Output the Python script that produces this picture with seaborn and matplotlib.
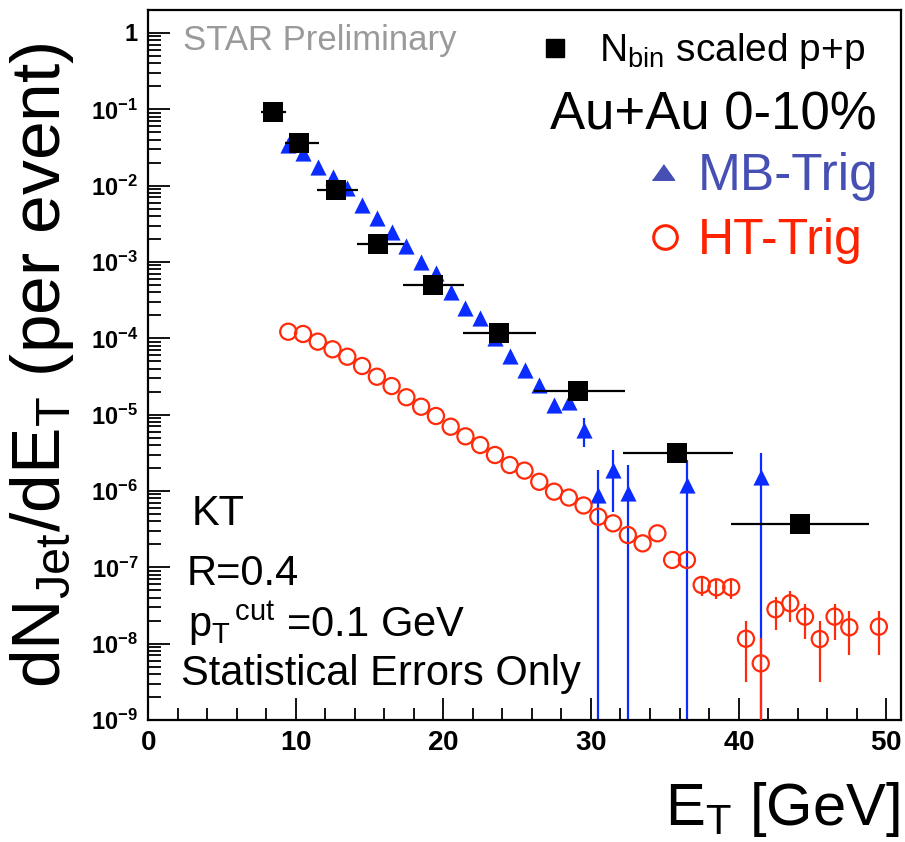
import numpy as np
import pandas as pd
import matplotlib
matplotlib.use("Agg")
import matplotlib.pyplot as plt
import seaborn as sns
from matplotlib.ticker import LogLocator, MultipleLocator, FuncFormatter, NullFormatter
from matplotlib.lines import Line2D

# ---------------- data ----------------
# N_bin scaled p+p
pp_x = [8.47, 10.2, 12.75, 15.56, 19.28, 23.79, 29.13, 35.85, 44.19]
pp_xlo = [7.67, 9.25, 11.46, 14.14, 17.3, 21.31, 26.11, 32.2, 39.5]
pp_xhi = [9.36, 11.58, 14.21, 17.36, 21.42, 26.27, 32.29, 39.64, 48.8]
pp_y = [0.093, 0.0366, 0.00877, 0.0017, 5.0e-4, 1.16e-4, 2.06e-5, 3.17e-6, 3.69e-7]

# Au+Au 0-10% MB-Trig
mb_x = [9.5, 10.5, 11.5, 12.5, 13.5, 14.5, 15.5, 16.5, 17.5, 18.5, 19.5, 20.5,
        21.5, 22.5, 23.5, 24.5, 25.5, 26.5, 27.5, 28.5, 29.5, 30.5, 31.5, 32.5,
        36.5, 41.5]
mb_y = [0.0341, 0.0265, 0.0177, 0.0131, 0.00923, 0.00558, 0.00374, 0.00249,
        0.00162, 0.00101, 7.18e-4, 4.05e-4, 2.47e-4, 1.83e-4, 1.0e-4, 5.87e-5,
        3.84e-5, 2.45e-5, 1.34e-5, 1.48e-5, 6.29e-6, 8.86e-7, 1.88e-6, 9.31e-7,
        1.2e-6, 1.54e-6]
# visible error bars of MB-Trig (lower / upper bound; 1e-12 = extends below axis)
mb_err_x = [29.5, 30.5, 31.5, 32.5, 36.5, 41.5]
mb_err_y = [6.29e-6, 8.86e-7, 1.88e-6, 9.31e-7, 1.2e-6, 1.54e-6]
mb_err_lo = [3.77e-6, 1e-12, 5.3e-7, 1e-12, 1e-12, 1e-12]
mb_err_hi = [9.04e-6, 1.88e-6, 3.44e-6, 2.19e-6, 2.55e-6, 3.17e-6]

# Au+Au 0-10% HT-Trig
ht_x = [9.5, 10.5, 11.5, 12.5, 13.5, 14.5, 15.5, 16.5, 17.5, 18.5, 19.5, 20.5,
        21.5, 22.5, 23.5, 24.5, 25.5, 26.5, 27.5, 28.5, 29.5, 30.5, 31.5, 32.5,
        33.5, 34.5, 35.5, 36.5, 37.5, 38.5, 39.5, 40.5, 41.5, 42.5, 43.5, 44.5,
        45.5, 46.5, 47.5, 49.5]
ht_y = [1.22e-4, 1.14e-4, 9.04e-5, 7.18e-5, 5.74e-5, 4.34e-5, 3.14e-5, 2.37e-5,
        1.69e-5, 1.27e-5, 9.6e-6, 6.95e-6, 5.2e-6, 4.0e-6, 2.96e-6, 2.19e-6,
        1.85e-6, 1.32e-6, 9.8e-7, 8.2e-7, 6.46e-7, 4.6e-7, 3.77e-7, 2.65e-7,
        2.06e-7, 2.79e-7, 1.25e-7, 1.25e-7, 5.87e-8, 5.47e-8, 5.47e-8, 1.16e-8,
        5.52e-9, 2.82e-8, 3.38e-8, 2.26e-8, 1.15e-8, 2.26e-8, 1.64e-8, 1.67e-8]
ht_err_x = [37.5, 38.5, 39.5, 40.5, 41.5, 42.5, 43.5, 44.5, 45.5, 46.5, 47.5, 49.5]
ht_err_y = [5.87e-8, 5.47e-8, 5.47e-8, 1.16e-8, 5.52e-9, 2.82e-8, 3.38e-8,
            2.26e-8, 1.15e-8, 2.26e-8, 1.64e-8, 1.67e-8]
ht_err_lo = [4.2e-8, 3.9e-8, 3.9e-8, 3.17e-9, 1e-12, 1.51e-8, 1.94e-8, 1.14e-8,
             3.17e-9, 1.12e-8, 7.1e-9, 7.1e-9]
ht_err_hi = [7.5e-8, 7.0e-8, 7.0e-8, 2.0e-8, 1.17e-8, 4.12e-8, 4.94e-8, 3.3e-8,
             1.98e-8, 3.3e-8, 2.67e-8, 2.67e-8]

x_ticks_major = [0, 10, 20, 30, 40, 50]

# ---------------- style ----------------
sns.set_style("white")
plt.rcParams["font.family"] = ["Liberation Sans", "DejaVu Sans"]
plt.rcParams["mathtext.fontset"] = "custom"
plt.rcParams["mathtext.rm"] = "Liberation Sans"
plt.rcParams["mathtext.it"] = "Liberation Sans:italic"
plt.rcParams["mathtext.bf"] = "Liberation Sans:bold"
for k in ["text.color", "axes.labelcolor", "xtick.color", "ytick.color",
          "axes.edgecolor"]:
    plt.rcParams[k] = "black"

BLACK = "#000000"
BLUE = "#0a2cff"
BLUE_LEG = "#4650b4"
RED = "#ff2a0a"
RED_LEG = "#ff2200"

W, H = 905, 842
fig = plt.figure(figsize=(W / 100, H / 100), dpi=100)
L, R, T, B = 148, 901, 10, 720
ax = fig.add_axes([L / W, (H - B) / H, (R - L) / W, (B - T) / H])
ax.set_yscale("log")

pp_df = pd.DataFrame({"x": pp_x, "y": pp_y})
mb_df = pd.DataFrame({"x": mb_x, "y": mb_y})
ht_df = pd.DataFrame({"x": ht_x, "y": ht_y})

# MB-Trig
mby = np.array(mb_err_y)
ax.errorbar(mb_err_x, mb_err_y,
            yerr=[mby - np.array(mb_err_lo), np.array(mb_err_hi) - mby],
            fmt="none", ecolor=BLUE, elinewidth=1.6, capsize=0, zorder=2)
sns.scatterplot(data=mb_df, x="x", y="y", marker="^", s=135, color=BLUE,
                edgecolor=BLUE, linewidth=0, ax=ax, zorder=2.5)

# HT-Trig
hty = np.array(ht_err_y)
ax.errorbar(ht_err_x, ht_err_y,
            yerr=[hty - np.array(ht_err_lo), np.array(ht_err_hi) - hty],
            fmt="none", ecolor=RED, elinewidth=1.6, capsize=0, zorder=3)
sns.scatterplot(data=ht_df, x="x", y="y", marker="o", s=135, facecolor="none",
                edgecolor=RED, linewidth=1.6, ax=ax, zorder=3.5)

# p+p
ppx = np.array(pp_x)
ax.errorbar(pp_x, pp_y, xerr=[ppx - np.array(pp_xlo), np.array(pp_xhi) - ppx],
            fmt="none", ecolor=BLACK, elinewidth=1.6, capsize=0, zorder=4)
sns.scatterplot(data=pp_df, x="x", y="y", marker="s", s=205, color=BLACK,
                edgecolor=BLACK, linewidth=0, ax=ax, zorder=4.5)

# ---------------- axes ----------------
ax.set_xlim(0, 51)
ax.set_ylim(1e-9, 2.0)
ax.xaxis.set_major_locator(matplotlib.ticker.FixedLocator(x_ticks_major))
ax.xaxis.set_minor_locator(MultipleLocator(2))
ax.yaxis.set_major_locator(LogLocator(base=10, numticks=20))
ax.yaxis.set_minor_locator(LogLocator(base=10, subs=np.arange(2, 10), numticks=200))
ax.yaxis.set_minor_formatter(NullFormatter())
ax.xaxis.set_major_formatter(FuncFormatter(lambda v, p: r"$\mathbf{%d}$" % round(v)))


def yfmt(v, p):
    e = int(round(np.log10(v)))
    if e == 0:
        return r"$\mathbf{1}$"
    return r"$\mathbf{10^{%d}}$" % e


ax.yaxis.set_major_formatter(FuncFormatter(yfmt))
ax.tick_params(axis="both", which="both", direction="in", top=False, right=False,
               bottom=True, left=True, color="black", labelcolor="black")
ax.tick_params(axis="both", which="major", length=16, width=1.3)
ax.tick_params(axis="both", which="minor", length=9, width=1.3)
ax.tick_params(axis="x", which="major", labelsize=20, pad=7)
ax.tick_params(axis="y", which="major", labelsize=17, pad=7)
for sp in ax.spines.values():
    sp.set_linewidth(1.6)
    sp.set_color("black")

ax.set_xlabel(r"E$_{\rm T}$ [GeV]", fontsize=43, ha="right", color="black")
ax.xaxis.set_label_coords(0.998, -0.085)
ax.set_ylabel(r"dN$_{\rm Jet}$/dE$_{\rm T}$ (per event)", fontsize=50, color="black")
ax.yaxis.set_label_coords(-0.095, 0.5)

# ---------------- texts ----------------
ax.text(0.0465, 0.943, "STAR Preliminary", transform=ax.transAxes, fontsize=25,
        color="#9a9a9a", ha="left", va="baseline")
ax.text(0.968, 0.831, "Au+Au 0-10%", transform=ax.transAxes, fontsize=38,
        color="black", ha="right", va="baseline")
ax.text(0.0584, 0.2746, "KT", transform=ax.transAxes, fontsize=30, ha="left",
        va="baseline", color="black")
ax.text(0.0518, 0.190, "R=0.4", transform=ax.transAxes, fontsize=30, ha="left",
        va="baseline", color="black")
ax.text(0.053, 0.1169, r"p$_{\rm T}$$^{\,\rm cut}$ =0.1 GeV", transform=ax.transAxes,
        fontsize=30, ha="left", va="baseline", color="black")
ax.text(0.0438, 0.0493, "Statistical Errors Only", transform=ax.transAxes, fontsize=30,
        ha="left", va="baseline", color="black")

# ---------------- legend entries ----------------
leg1 = ax.legend(handles=[Line2D([], [], marker="s", ls="none", color=BLACK, ms=13)],
                 labels=[r"N$_{\rm bin}$ scaled p+p"], loc="center right",
                 bbox_to_anchor=(0.952, 0.942), bbox_transform=ax.transAxes,
                 fontsize=28, frameon=False, borderpad=0, borderaxespad=0,
                 handlelength=0.6, handletextpad=0.83, labelcolor="black")
ax.add_artist(leg1)
tri = [(-1, -0.7), (1, -0.7), (0, 0.7)]
leg2 = ax.legend(handles=[Line2D([], [], marker=tri, ls="none", color=BLUE_LEG, ms=16)],
                 labels=["MB-Trig"], loc="center right",
                 bbox_to_anchor=(0.9695, 0.765), bbox_transform=ax.transAxes,
                 fontsize=37, frameon=False, borderpad=0, borderaxespad=0,
                 handlelength=0.6, handletextpad=0.37, labelcolor=BLUE_LEG)
ax.add_artist(leg2)
leg3 = ax.legend(handles=[Line2D([], [], marker="o", ls="none", mfc="none", mec=RED_LEG,
                                 mew=2.2, ms=17)],
                 labels=["HT-Trig"], loc="center right",
                 bbox_to_anchor=(0.9495, 0.674), bbox_transform=ax.transAxes,
                 fontsize=36, frameon=False, borderpad=0, borderaxespad=0,
                 handlelength=0.6, handletextpad=0.36, labelcolor=RED_LEG)

fig.savefig("out.png", dpi=100)
